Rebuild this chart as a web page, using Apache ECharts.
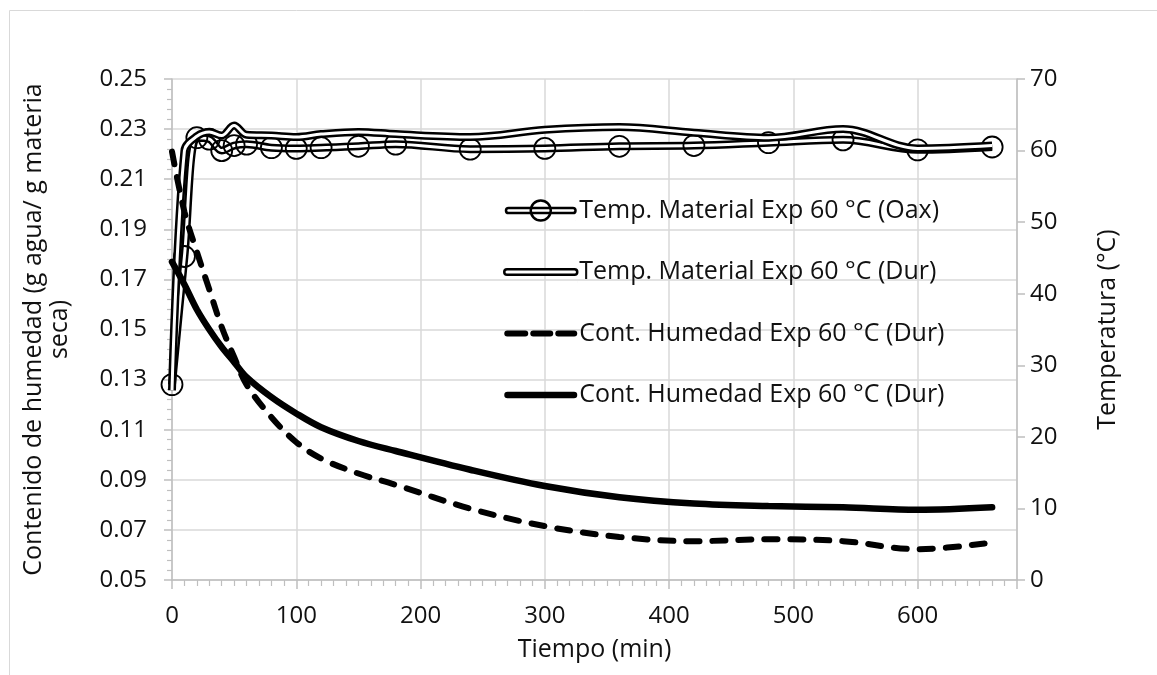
<!DOCTYPE html>
<html>
<head>
<meta charset="utf-8">
<title>Secado 60 °C</title>
<script src="https://cdn.jsdelivr.net/npm/echarts@6/dist/echarts.min.js"></script>
<style>
  html, body { margin: 0; padding: 0; background: #fff; }
  #chart { width: 1157px; height: 675px; }
</style>
</head>
<body>
<div id="chart"></div>
<script>
  // tiempos de muestreo (min)
  var timeMin = [0, 10, 20, 30, 40, 50, 60, 80, 100, 120, 150, 180, 240, 300, 360, 420, 480, 540, 600, 660];
  // temperatura del material (°C)
  var tempOax = [27.3, 45.2, 61.8, 61.6, 60.0, 60.7, 60.9, 60.4, 60.3, 60.4, 60.6, 60.9, 60.2, 60.3, 60.6, 60.7, 61.1, 61.5, 60.1, 60.5];
  var tempDur = [26.5, 60.0, 62.0, 62.6, 62.1, 63.5, 62.2, 62.1, 61.9, 62.3, 62.6, 62.3, 61.9, 62.9, 63.3, 62.5, 61.8, 63.0, 60.3, 60.7];
  // contenido de humedad (g agua / g materia seca)
  var humDash = [0.221, 0.197, 0.181, 0.166, 0.151, 0.139, 0.128, 0.115, 0.105, 0.0985, 0.0925, 0.088, 0.0785, 0.0715, 0.0672, 0.0655, 0.0663, 0.0655, 0.0623, 0.065];
  var humSolid = [0.177, 0.168, 0.158, 0.150, 0.143, 0.137, 0.131, 0.123, 0.1165, 0.111, 0.1055, 0.1015, 0.094, 0.0875, 0.083, 0.0805, 0.0795, 0.079, 0.078, 0.079];

  // los dos ultimos nombres se ven iguales; el espacio final los separa en la leyenda
  var legendNames = [
    'Temp. Material Exp 60 °C (Oax)',
    'Temp. Material Exp 60 °C (Dur)',
    'Cont. Humedad Exp 60 °C (Dur)',
    'Cont. Humedad Exp 60 °C (Dur) '
  ];

  function pairs(xs, ys) {
    return xs.map(function (x, i) { return [x, ys[i]]; });
  }

  var font = '"Open Sans", "Noto Sans", sans-serif';
  var textColor = '#111';
  var axisGray = '#bfbfbf';
  var gridGray = '#d9d9d9';

  // iconos de leyenda en una caja de 73x20 (las esquinas fijan la caja)
  var corners = ' M0,0 L0.01,0 M73,20 L72.99,20';
  var pill = 'M2.75,7.25 L70.25,7.25 A2.75,2.75 0 0 1 70.25,12.75 L2.75,12.75 A2.75,2.75 0 0 1 2.75,7.25 Z';
  var circ = ' M47,10 A10.5,10.5 0 1 1 26,10 A10.5,10.5 0 1 1 47,10 Z';
  var dashes = 'M3,7 L21,7 A3,3 0 0 1 21,13 L3,13 A3,3 0 0 1 3,7 Z' +
    ' M29,7 L46,7 A3,3 0 0 1 46,13 L29,13 A3,3 0 0 1 29,7 Z' +
    ' M54,7 L70,7 A3,3 0 0 1 70,13 L54,13 A3,3 0 0 1 54,7 Z';
  var solidBar = 'M3.25,6.75 L69.75,6.75 A3.25,3.25 0 0 1 69.75,13.25 L3.25,13.25 A3.25,3.25 0 0 1 3.25,6.75 Z';

  var chart = echarts.init(document.getElementById('chart'));

  var option = {
    animation: false,
    textStyle: { fontFamily: font },
    graphic: [{
      type: 'rect',
      shape: { x: 9.5, y: 10.5, width: 1160, height: 700 },
      style: { fill: 'none', stroke: gridGray, lineWidth: 1 },
      silent: true
    }],
    grid: { left: 172, right: 140, top: 79, bottom: 95 },
    legend: {
      orient: 'vertical',
      left: 498,
      top: 193,
      itemWidth: 73,
      itemHeight: 20,
      itemGap: 36.5,
      textStyle: { fontSize: 25, color: textColor, fontFamily: font, padding: [0, 0, 0, -3] },
      data: [
        { name: legendNames[0], icon: 'path://' + pill + circ + corners,
          itemStyle: { color: '#fff', borderColor: '#000', borderWidth: 2.5 } },
        { name: legendNames[1], icon: 'path://' + pill + corners,
          itemStyle: { color: '#fff', borderColor: '#000', borderWidth: 2.5 } },
        { name: legendNames[2], icon: 'path://' + dashes + corners,
          itemStyle: { color: '#000', borderWidth: 0 } },
        { name: legendNames[3], icon: 'path://' + solidBar + corners,
          itemStyle: { color: '#000', borderWidth: 0 } }
      ]
    },
    xAxis: {
      type: 'value',
      min: 0,
      max: 680,
      interval: 100,
      name: 'Tiempo (min)',
      nameLocation: 'middle',
      nameGap: 57,
      nameTextStyle: { fontSize: 25, color: textColor },
      axisLine: { lineStyle: { color: axisGray, width: 1.5 } },
      axisTick: { length: 9, lineStyle: { color: axisGray, width: 1.5 } },
      minorTick: { show: true, splitNumber: 10, length: 6, lineStyle: { color: axisGray, width: 1.2 } },
      axisLabel: { fontSize: 24, color: textColor, margin: 24,
        formatter: function (v) { return v % 100 === 0 ? String(v) : ''; } },
      splitLine: { show: true, lineStyle: { color: gridGray, width: 1.5 } }
    },
    yAxis: [{
      type: 'value',
      min: 0.05,
      max: 0.25,
      interval: 0.02,
      name: 'Contenido de humedad (g agua/ g materia\nseca)',
      nameLocation: 'middle',
      nameRotate: 90,
      nameGap: 99,
      nameTextStyle: { fontSize: 25, color: textColor, lineHeight: 26 },
      axisLine: { show: true, lineStyle: { color: axisGray, width: 1.5 } },
      axisTick: { show: true, length: 8, lineStyle: { color: axisGray, width: 1.5 } },
      minorTick: { show: true, splitNumber: 5, length: 5, lineStyle: { color: axisGray, width: 1.2 } },
      axisLabel: { fontSize: 24, color: textColor, margin: 25,
        formatter: function (v) { return v.toFixed(2); } },
      splitLine: { show: true, lineStyle: { color: gridGray, width: 1.5 } }
    }, {
      type: 'value',
      position: 'right',
      min: 0,
      max: 70,
      interval: 10,
      name: 'Temperatura (°C)',
      nameLocation: 'middle',
      nameRotate: 90,
      nameGap: 78,
      nameTextStyle: { fontSize: 25, color: textColor, lineHeight: 26 },
      axisLine: { show: true, lineStyle: { color: axisGray, width: 1.5 } },
      axisTick: { show: true, length: 8, lineStyle: { color: axisGray, width: 1.5 } },
      axisLabel: { fontSize: 24, color: textColor, margin: 13 },
      splitLine: { show: false }
    }],
    series: [
      {
        name: legendNames[0],
        type: 'line',
        yAxisIndex: 1,
        smooth: 0.35,
        data: pairs(timeMin, tempOax),
        symbol: 'none',
        lineStyle: { color: '#000', width: 8 },
        itemStyle: { color: '#000' },
        z: 2
      },
      {
        name: 'oax-centro',
        type: 'line',
        yAxisIndex: 1,
        smooth: 0.35,
        data: pairs(timeMin, tempOax),
        symbol: 'circle',
        symbolSize: 21,
        lineStyle: { color: '#fff', width: 3 },
        itemStyle: { color: 'rgba(0,0,0,0)', borderColor: '#000', borderWidth: 1.8 },
        z: 3
      },
      {
        name: legendNames[1],
        type: 'line',
        yAxisIndex: 1,
        smooth: 0.35,
        data: pairs(timeMin, tempDur),
        symbol: 'none',
        lineStyle: { color: '#000', width: 8 },
        itemStyle: { color: '#000' },
        z: 4
      },
      {
        name: 'dur-centro',
        type: 'line',
        yAxisIndex: 1,
        smooth: 0.35,
        data: pairs(timeMin, tempDur),
        symbol: 'none',
        lineStyle: { color: '#fff', width: 3 },
        z: 5
      },
      {
        name: legendNames[2],
        type: 'line',
        yAxisIndex: 0,
        smooth: 0.35,
        data: pairs(timeMin, humDash),
        symbol: 'none',
        lineStyle: { color: '#000', width: 6, type: [13, 13], cap: 'round' },
        itemStyle: { color: '#000' },
        z: 6
      },
      {
        name: legendNames[3],
        type: 'line',
        yAxisIndex: 0,
        smooth: 0.35,
        data: pairs(timeMin, humSolid),
        symbol: 'none',
        lineStyle: { color: '#000', width: 6.5, cap: 'round' },
        itemStyle: { color: '#000' },
        z: 6
      }
    ]
  };

  chart.setOption(option);
</script>
</body>
</html>
